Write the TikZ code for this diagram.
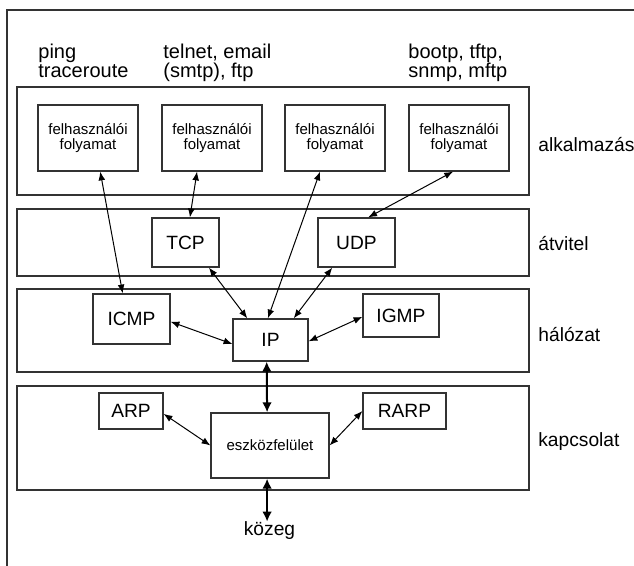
\documentclass[tikz,border=0pt]{standalone}
\usepackage{fontspec}
\setmainfont{Liberation Sans}
\usetikzlibrary{arrows.meta}

\begin{document}
\begin{tikzpicture}[x=0.5pt,y=-0.5pt,
  reteg/.style={draw=black!80, line width=0.6pt, minimum width=256pt, inner sep=0pt},
  doboz/.style={draw=black!80, line width=0.6pt, inner sep=0pt, font=\fontsize{9.6}{9.5}\selectfont},
  folyamat/.style={doboz, minimum width=50pt, minimum height=33pt, align=center, font=\fontsize{7.5}{7.8}\selectfont},
  felirat/.style={anchor=base west, inner sep=0pt, font=\fontsize{9.6}{9.5}\selectfont},
  fenti/.style={anchor=north west, inner sep=0pt, align=left, font=\fontsize{10}{9.5}\selectfont},
  nyil/.style={{Latex[length=4.4pt,width=3.4pt]}-{Latex[length=4.4pt,width=3.4pt]}, line width=0.5pt},
  vastag/.style={{Latex[length=5pt,width=4.8pt]}-{Latex[length=5pt,width=4.8pt]}, line width=1pt}]
\useasboundingbox (0,0) rectangle (634,566);
\draw[draw=black!80, line width=0.6pt] (7,570) -- (7,10) -- (640,10);

\node[reteg, minimum height=54pt] (alk) at (273,141) {};
\node[reteg, minimum height=33.5pt] (atv) at (273,242.5) {};
\node[reteg, minimum height=41.5pt] (hal) at (273,330.5) {};
\node[reteg, minimum height=52pt] (kap) at (273,438) {};

\node[felirat] (alkl) at (538,152) {alkalmazás};
\node[felirat] (atvl) at (538,251) {átvitel};
\node[felirat] (hall) at (538,342) {hálózat};
\node[felirat] (kapl) at (538,447) {kapcsolat};

\node[fenti] (ping) at (38,44) {ping\\traceroute};
\node[fenti] (telnet) at (163,44) {telnet, email\\(smtp), ftp};
\node[fenti] (bootp) at (408,44) {bootp, tftp,\\snmp, mftp};

\node[folyamat] (app1) at (88,138) {felhasználói\\folyamat};
\node[folyamat] (app2) at (212,138) {felhasználói\\folyamat};
\node[folyamat] (app3) at (335,138) {felhasználói\\folyamat};
\node[folyamat] (app4) at (459,138) {felhasználói\\folyamat};

\node[doboz, minimum width=33.5pt, minimum height=24.5pt] (tcp) at (185.5,242.5) {TCP};
\node[doboz, minimum width=38.5pt, minimum height=24.5pt] (udp) at (356.5,242.5) {UDP};

\node[doboz, minimum width=38.5pt, minimum height=25pt] (icmp) at (131.5,319) {ICMP};
\node[doboz, minimum width=37.5pt, minimum height=21pt] (ip) at (270.5,340) {IP};
\node[doboz, minimum width=38pt, minimum height=21.5pt] (igmp) at (401,315.5) {IGMP};

\node[doboz, minimum width=32pt, minimum height=18pt] (arp) at (131,411) {ARP};
\node[doboz, minimum width=41.5pt, minimum height=18pt] (rarp) at (404.5,411) {RARP};
\node[folyamat, minimum width=59pt, minimum height=32.5pt] (esz) at (270,445.5) {eszközfelület};

\node[felirat, anchor=base] (kozeg) at (269.5,536) {közeg};

\draw[nyil] (app1.-70) -- (icmp.109);
\draw[nyil] (app2.-114) -- (tcp.80);
\draw[nyil] (app3.-114) -- (ip.97);
\draw[nyil] (app4.-100) -- (udp.65);
\draw[nyil] (tcp.-47) -- (ip.137);
\draw[nyil] (udp.-134) -- (ip.43);
\draw[nyil] (icmp.-4.5) -- (ip.186);
\draw[nyil] (igmp.182.7) -- (ip.-2.6);
\draw[vastag] (ip.-100) -- (esz.95);
\draw[vastag] (esz.-95) -- (esz.-95 |- kozeg.north);
\draw[nyil] (arp.-5.4) -- (esz.west);
\draw[nyil] (rarp.west) -- (esz.east);
\end{tikzpicture}
\end{document}
